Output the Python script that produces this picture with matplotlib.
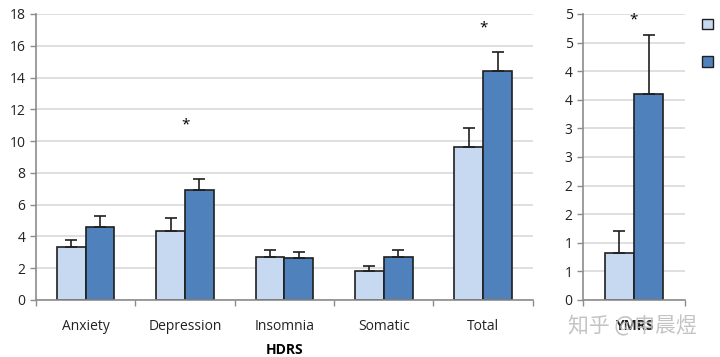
import numpy as np
import matplotlib
matplotlib.use("Agg")
from matplotlib import pyplot as plt
from matplotlib.patches import Patch

# HDRS subscales
hdrs_labels = ['Anxiety', 'Depression', 'Insomnia', 'Somatic', 'Total']
hdrs_light = [3.35, 4.36, 2.68, 1.84, 9.6]
hdrs_light_err = [0.42, 0.78, 0.46, 0.27, 1.2]
hdrs_dark = [4.57, 6.92, 2.64, 2.72, 14.42]
hdrs_dark_err = [0.71, 0.67, 0.38, 0.42, 1.18]
hdrs_star = [None, 11.0, None, None, 17.1]

# YMRS
ymrs_light = [0.83]
ymrs_light_err = [0.38]
ymrs_dark = [3.6]
ymrs_dark_err = [1.04]
ymrs_star = 4.89
ymrs_ticks = np.arange(0, 5.01, 0.5)

LIGHT = '#c6d9f1'
DARK = '#4f81bd'
EDGE = '#1f1f1f'
GRID = '#d9d9d9'
AXIS = '#8c8c8c'
FONT = 'Open Sans'

plt.rcParams['font.family'] = [FONT, 'DejaVu Sans']


def style_axes(ax):
    ax.set_axisbelow(True)
    ax.yaxis.grid(True, color=GRID, linewidth=1.2)
    for s in ['top', 'right']:
        ax.spines[s].set_visible(False)
    for s in ['left', 'bottom']:
        ax.spines[s].set_color(AXIS)
        ax.spines[s].set_linewidth(1.2)
    ax.tick_params(axis='y', colors=AXIS, length=4, width=1.0,
                   labelcolor='#222222', labelsize=10)
    ax.tick_params(axis='x', which='major', length=0, labelsize=10,
                   labelcolor='#222222', pad=14)
    ax.tick_params(axis='x', which='minor', colors=AXIS, length=4, width=1.0)


def draw_pair(ax, x, light, light_err, dark, dark_err, w):
    x = np.asarray(x, dtype=float)
    ekw = dict(ecolor=EDGE, elinewidth=1.2, capsize=4, capthick=1.2)
    ax.bar(x - w / 2, light, w, color=LIGHT, edgecolor=EDGE, linewidth=1.2,
           yerr=[np.zeros(len(light)), light_err], error_kw=ekw)
    ax.bar(x + w / 2, dark, w, color=DARK, edgecolor=EDGE, linewidth=1.2,
           yerr=[np.zeros(len(dark)), dark_err], error_kw=ekw)


fig = plt.figure(figsize=(7.2, 3.57), dpi=100)

# left panel
ax1 = fig.add_axes([0.05, 0.1597, 0.69, 0.8011])
x = np.arange(len(hdrs_labels))
draw_pair(ax1, x, hdrs_light, hdrs_light_err, hdrs_dark, hdrs_dark_err, 0.29)
for xi, s in zip(x, hdrs_star):
    if s is not None:
        ax1.text(xi, s, '*', ha='center', va='center', fontsize=11)
ax1.set_xlim(-0.5, len(hdrs_labels) - 0.5)
ax1.set_ylim(0, 18)
ax1.set_yticks(np.arange(0, 19, 2))
ax1.set_xticks(x)
ax1.set_xticklabels(hdrs_labels)
ax1.set_xticks(np.arange(-0.5, len(hdrs_labels)), minor=True)
style_axes(ax1)
ax1.set_xlabel('HDRS', fontsize=10, fontweight='bold', labelpad=6)

# right panel
ax2 = fig.add_axes([0.8097, 0.1597, 0.1417, 0.8011])
draw_pair(ax2, [0], ymrs_light, ymrs_light_err, ymrs_dark, ymrs_dark_err, 0.285)
ax2.text(0, ymrs_star, '*', ha='center', va='center', fontsize=11)
ax2.set_xlim(-0.5, 0.5)
ax2.set_ylim(0, 5)
ax2.set_yticks(ymrs_ticks)
ax2.set_yticklabels([str(int(np.floor(t + 0.5))) for t in ymrs_ticks])
ax2.set_xticks([0])
ax2.set_xticklabels(['YMRS'], fontweight='bold')
ax2.set_xticks([-0.5, 0.5], minor=True)
style_axes(ax2)

# legend (labels cut off at figure edge)
handles = [Patch(facecolor=LIGHT, edgecolor=EDGE), Patch(facecolor=DARK, edgecolor=EDGE)]
fig.legend(handles, ['', ''], loc='upper left', bbox_to_anchor=(0.975, 0.95),
           frameon=False, handlelength=0.8, handleheight=0.8, labelspacing=1.6,
           borderaxespad=0, borderpad=0)

# watermark
fig.text(0.878, 0.085, '知乎 @申晨煜', ha='center', va='center', fontsize=15,
         color='#bdbdbd', alpha=0.9, family=['Noto Sans CJK SC', 'DejaVu Sans'])

fig.savefig('out.png', dpi=100)
